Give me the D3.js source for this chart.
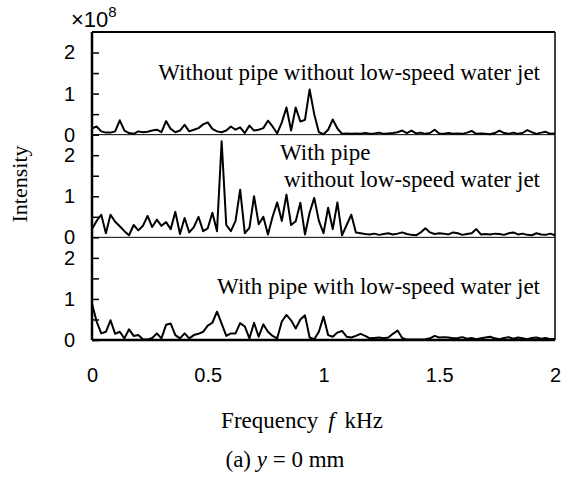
<!DOCTYPE html>
<html>
<head>
<meta charset="utf-8">
<script src="https://cdn.jsdelivr.net/npm/d3@7"></script>
<style>
  body { margin: 0; background: #fff; }
  .tick text { font-family: "Liberation Sans", Arial, sans-serif; font-size: 20px; fill: #000; }
  .serif { font-family: "Liberation Serif", "Times New Roman", serif; fill: #000; }
</style>
</head>
<body>
<svg id="chart"></svg>
<script>
// frequency grid, kHz (step 0.02)
var freqStep = 0.02;

// intensity, x10^8
var noPipeNoJet = [0.15, 0.2, 0.08, 0.05, 0.05, 0.08, 0.35, 0.1, 0.04, 0.02,
    0.08, 0.06, 0.07, 0.1, 0.12, 0.06, 0.33, 0.14, 0.06, 0.1,
    0.24, 0.08, 0.12, 0.16, 0.25, 0.3, 0.14, 0.08, 0.06, 0.1,
    0.2, 0.12, 0.18, 0.04, 0.22, 0.1, 0.12, 0.16, 0.34, 0.2,
    0.03, 0.3, 0.66, 0.1, 0.66, 0.32, 0.36, 1.1, 0.5, 0.06,
    0.01, 0.12, 0.37, 0.15, 0.02, 0.03, 0.02, 0.03, 0.02, 0.04,
    0.02, 0.03, 0.05, 0.02, 0.03, 0.04, 0.06, 0.1, 0.04, 0.1,
    0.03, 0.05, 0.02, 0.04, 0.12, 0.03, 0.02, 0.04, 0.02, 0.03,
    0.02, 0.05, 0.09, 0.02, 0.03, 0.02, 0.01, 0.04, 0.1, 0.04,
    0.02, 0.05, 0.02, 0.04, 0.11, 0.06, 0.02, 0.05, 0.07, 0.02, 0.03];

var pipeNoJet = [0.2, 0.4, 0.55, 0.1, 0.55, 0.38, 0.27, 0.15, 0.05, 0.3,
    0.17, 0.28, 0.52, 0.25, 0.43, 0.28, 0.37, 0.2, 0.62, 0.08,
    0.47, 0.12, 0.25, 0.5, 0.15, 0.22, 0.6, 0.15, 2.34, 0.3,
    0.15, 0.4, 1.16, 0.1, 0.23, 1.0, 0.32, 0.5, 0.07, 0.5,
    0.85, 0.4, 1.04, 0.3, 0.39, 0.84, 0.07, 0.6, 0.96, 0.4,
    0.1, 0.72, 0.2, 0.85, 0.05, 0.3, 0.55, 0.12, 0.1, 0.08,
    0.07, 0.09, 0.06, 0.08, 0.1, 0.07, 0.09, 0.12, 0.08, 0.06,
    0.05, 0.12, 0.22, 0.12, 0.08, 0.1, 0.09, 0.07, 0.12, 0.1,
    0.06, 0.08, 0.1, 0.2, 0.07, 0.08, 0.07, 0.09, 0.08, 0.06,
    0.1, 0.12, 0.07, 0.09, 0.06, 0.05, 0.1, 0.07, 0.06, 0.09, 0.05];

var pipeWithJet = [0.88, 0.45, 0.16, 0.2, 0.48, 0.15, 0.2, 0.04, 0.26, 0.1,
    0.12, 0.02, 0.01, 0.05, 0.16, 0.04, 0.37, 0.4, 0.12, 0.04,
    0.16, 0.04, 0.12, 0.15, 0.2, 0.35, 0.42, 0.69, 0.4, 0.1,
    0.16, 0.16, 0.41, 0.33, 0.04, 0.42, 0.08, 0.38, 0.2, 0.1,
    0.04, 0.45, 0.61, 0.48, 0.28, 0.5, 0.6, 0.06, 0.02, 0.2,
    0.57, 0.12, 0.08, 0.18, 0.22, 0.08, 0.06, 0.1, 0.15, 0.1,
    0.04, 0.05, 0.06, 0.04, 0.06, 0.15, 0.23, 0.05, 0.01, 0.01,
    0.01, 0.01, 0.02, 0.04, 0.1, 0.06, 0.07, 0.06, 0.04, 0.05,
    0.07, 0.03, 0.05, 0.02, 0.04, 0.06, 0.08, 0.04, 0.02, 0.05,
    0.07, 0.03, 0.06, 0.04, 0.02, 0.05, 0.06, 0.03, 0.05, 0.02, 0.03];

var panelLabels = [
    ["Without pipe without low-speed water jet"],
    ["With pipe", "without low-speed water jet"],
    ["With pipe with low-speed water jet"]
];
var xTicks = [0, 0.5, 1, 1.5, 2];
var yTicks = [0, 0.5, 1, 1.5, 2];

var series = [noPipeNoJet, pipeNoJet, pipeWithJet];

var margin = {top: 32, right: 19, bottom: 139, left: 92};
var width = 574 - margin.left - margin.right,
    height = 479 - margin.top - margin.bottom;
var panelH = height / 3;

var svg = d3.select("#chart")
    .attr("width", 574)
    .attr("height", 479);

var chart = svg.append("g")
    .attr("transform", "translate(" + margin.left + "," + margin.top + ")");

var x = d3.scaleLinear().domain([0, 2]).range([0, width]);

var line = d3.line()
    .x(function(d, i) { return x(i * freqStep); });

series.forEach(function(vals, p) {
    var y = d3.scaleLinear().domain([0, 2.5]).range([panelH, 0]);
    var g = chart.append("g")
        .attr("transform", "translate(0," + (p * panelH) + ")");

    // zero line
    g.append("line")
        .attr("x1", 0).attr("x2", width)
        .attr("y1", y(0)).attr("y2", y(0))
        .attr("stroke", "#000")
        .attr("stroke-width", p == 2 ? 2.5 : 1);

    var yAxis = d3.axisLeft(y)
        .tickValues(yTicks)
        .tickSizeInner(-7)
        .tickSizeOuter(0)
        .tickPadding(17)
        .tickFormat(function(d) { return d % 1 === 0 ? d : ""; });

    var ga = g.append("g").call(yAxis);
    ga.select(".domain").remove();
    ga.selectAll(".tick line").attr("stroke", "#000").attr("stroke-width", 1.5);

    line.y(function(d) { return y(d); });
    g.append("path")
        .datum(vals)
        .attr("fill", "none")
        .attr("stroke", "#000")
        .attr("stroke-width", 2)
        .attr("stroke-linejoin", "round")
        .attr("d", line);

    var lab = panelLabels[p];
    var t = g.append("text")
        .attr("class", "serif")
        .style("font-size", "23px");
    if (lab.length == 1) {
        t.attr("x", width - 15).attr("y", p == 0 ? 48 : 57)
            .attr("text-anchor", "end")
            .text(lab[0]);
    } else {
        t.append("tspan").attr("x", 188).attr("y", 25).text(lab[0]);
        t.append("tspan").attr("x", width - 15).attr("y", 52)
            .attr("text-anchor", "end").text(lab[1]);
    }
});

// frame
chart.append("line").attr("x1", 0).attr("x2", width).attr("y1", 0).attr("y2", 0)
    .attr("stroke", "#000").attr("stroke-width", 2);
chart.append("line").attr("x1", 0).attr("x2", 0).attr("y1", 0).attr("y2", height)
    .attr("stroke", "#000").attr("stroke-width", 2.5);
chart.append("line").attr("x1", width).attr("x2", width).attr("y1", 0).attr("y2", height)
    .attr("stroke", "#000").attr("stroke-width", 1.5);

var xAxis = d3.axisBottom(x)
    .tickValues(xTicks)
    .tickSize(0)
    .tickPadding(28)
    .tickFormat(d3.format("~g"));

var gx = chart.append("g")
    .attr("transform", "translate(0," + height + ")")
    .call(xAxis);
gx.select(".domain").remove();

// x10^8
var mult = svg.append("text")
    .attr("x", 71).attr("y", 27)
    .style("font-family", "Liberation Sans, Arial, sans-serif")
    .style("font-size", "22px");
mult.append("tspan").text("\u00d710");
mult.append("tspan").attr("dy", -10).style("font-size", "15px").text("8");

svg.append("text")
    .attr("class", "serif")
    .attr("transform", "translate(27," + (margin.top + height / 2 - 2) + ") rotate(-90)")
    .attr("text-anchor", "middle")
    .style("font-size", "22px")
    .text("Intensity");

var xl = svg.append("text")
    .attr("class", "serif")
    .attr("x", 302).attr("y", 428)
    .attr("text-anchor", "middle")
    .style("font-size", "23px");
xl.append("tspan").text("Frequency");
xl.append("tspan").attr("dx", 10).style("font-style", "italic").text("f");
xl.append("tspan").attr("dx", 10).text("kHz");

var cap = svg.append("text")
    .attr("class", "serif")
    .attr("x", 285).attr("y", 467)
    .attr("text-anchor", "middle")
    .style("font-size", "23px");
cap.append("tspan").text("(a) ");
cap.append("tspan").style("font-style", "italic").text("y");
cap.append("tspan").text(" = 0 mm");
</script>
</body>
</html>
